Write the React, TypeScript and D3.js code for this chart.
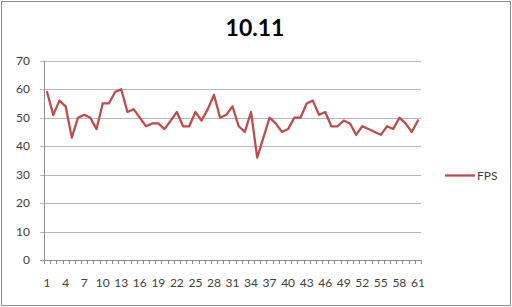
import React from "react";
import * as d3 from "d3";

const title = "10.11";
const seriesName = "FPS";
const categories: number[] = Array.from({ length: 61 }, (_, i) => i + 1);
const fps: number[] = [
  59, 51, 56, 54, 43, 50, 51, 50, 46, 55,
  55, 59, 60, 52, 53, 50, 47, 48, 48, 46,
  49, 52, 47, 47, 52, 49, 53, 58, 50, 51,
  54, 47, 45, 52, 36, 43, 50, 48, 45, 46,
  50, 50, 55, 56, 51, 52, 47, 47, 49, 48,
  44, 47, 46, 45, 44, 47, 46, 50, 48, 45,
  49,
];
const yTicks: number[] = [0, 10, 20, 30, 40, 50, 60, 70];
const xLabelEvery = 3;

const W = 512;
const H = 307;
const plot = { left: 44, right: 421, top: 60.7, bottom: 260.2 };
const font = "Lato, 'Open Sans', 'Liberation Sans', sans-serif";
const lineColor = "#be4b48";

export default function App() {
  const x = d3
    .scaleBand<number>()
    .domain(categories)
    .range([plot.left, plot.right])
    .padding(0);
  const cx = (c: number) => (x(c) as number) + x.bandwidth() / 2;
  const y = d3.scaleLinear().domain([0, 70]).range([plot.bottom, plot.top]);

  const line = d3
    .line<number>()
    .x((_, i) => cx(categories[i]))
    .y((d) => y(d));

  const boundaries = categories.map((c) => x(c) as number).concat([plot.right]);

  return (
    <svg
      width={W}
      height={H}
      style={{ position: "absolute", left: 0, top: 0, background: "#fff" }}
    >
      <rect x={0} y={0} width={W} height={H} fill="#fff" />
      <rect
        x={1.5}
        y={1.5}
        width={509}
        height={304}
        fill="none"
        stroke="#8c8c8c"
        strokeWidth={1}
      />
      <text
        x={255}
        y={36}
        textAnchor="middle"
        fontFamily={font}
        fontWeight="bold"
        fontSize={23}
        fill="#000"
      >
        {title}
      </text>

      {/* gridlines */}
      {yTicks.map((t) => (
        <line
          key={"g" + t}
          x1={plot.left - 4}
          x2={plot.right}
          y1={Math.round(y(t)) + 0.5}
          y2={Math.round(y(t)) + 0.5}
          stroke={t === 0 ? "#8c8c8c" : "#b8b8b8"}
          strokeWidth={1}
        />
      ))}
      {/* y axis */}
      <line
        x1={plot.left + 0.5}
        x2={plot.left + 0.5}
        y1={plot.top}
        y2={plot.bottom}
        stroke="#8c8c8c"
      />
      {yTicks.map((t) => (
        <text
          key={"yl" + t}
          x={30}
          y={y(t)}
          dy="0.35em"
          textAnchor="end"
          fontFamily={font}
          fontSize={12}
          fill="#404040"
        >
          {t}
        </text>
      ))}
      {/* x ticks */}
      {boundaries.map((b, i) => (
        <line
          key={"xt" + i}
          x1={Math.round(b) + 0.5}
          x2={Math.round(b) + 0.5}
          y1={Math.round(plot.bottom)}
          y2={Math.round(plot.bottom) + 4}
          stroke="#8c8c8c"
        />
      ))}
      {categories
        .filter((_, i) => i % xLabelEvery === 0)
        .map((c) => (
          <text
            key={"xl" + c}
            x={cx(c)}
            y={287}
            textAnchor="middle"
            fontFamily={font}
            fontSize={12}
            fill="#404040"
          >
            {c}
          </text>
        ))}

      <path
        d={line(fps) || ""}
        fill="none"
        stroke={lineColor}
        strokeWidth={2.25}
        strokeLinejoin="round"
        strokeLinecap="round"
      />

      {/* legend */}
      <line x1={445} x2={475} y1={175.5} y2={175.5} stroke={lineColor} strokeWidth={2.25} />
      <text
        x={477}
        y={175.5}
        dy="0.35em"
        fontFamily={font}
        fontSize={12}
        fill="#404040"
      >
        {seriesName}
      </text>
    </svg>
  );
}
